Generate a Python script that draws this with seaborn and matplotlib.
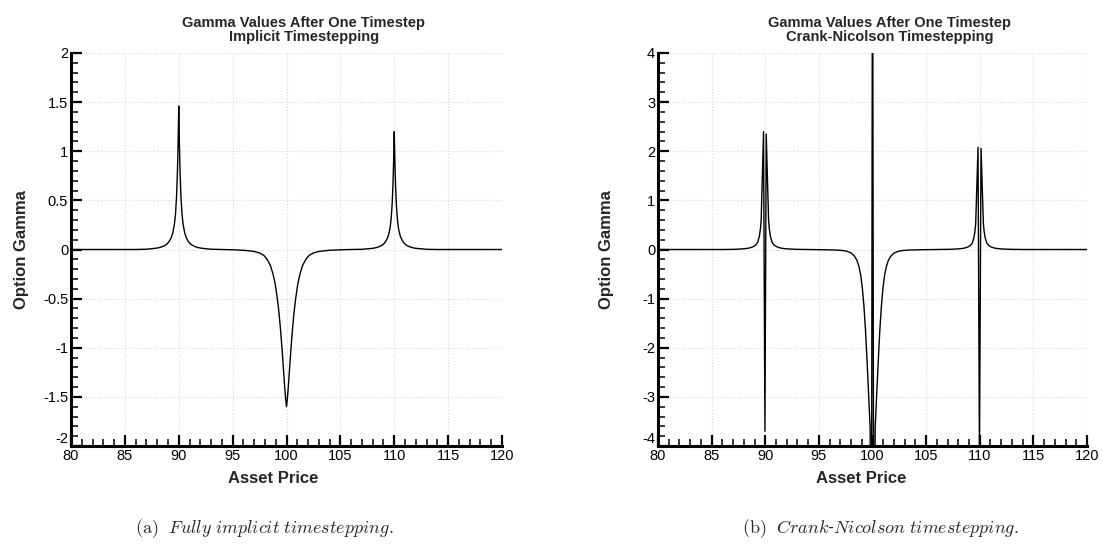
import numpy as np
import pandas as pd
import matplotlib
matplotlib.use("Agg")
import matplotlib.pyplot as plt
from matplotlib.ticker import MultipleLocator, FuncFormatter
import seaborn as sns

# valeurs : gamma apres un pas de temps (schema implicite)
price_implicit = [80, 84, 86, 87, 87.5, 88, 88.3, 88.6, 88.9, 89.1, 89.3, 89.45, 89.6, 89.7,
                  89.8, 89.88, 89.94, 90, 90.06, 90.12, 90.2, 90.3, 90.4, 90.55, 90.7, 90.9,
                  91.1, 91.4, 91.7, 92, 92.5, 93, 94, 95, 96, 96.5, 97, 97.5, 97.9, 98.2,
                  98.5, 98.75, 98.95, 99.15, 99.3, 99.45, 99.6, 99.72, 99.82, 99.92, 100,
                  100.08, 100.18, 100.28, 100.4, 100.55, 100.7, 100.85, 101.05, 101.25,
                  101.5, 101.8, 102.1, 102.5, 103, 103.5, 104, 105, 106, 107, 107.5, 108,
                  108.3, 108.6, 108.9, 109.1, 109.3, 109.45, 109.6, 109.7, 109.8, 109.88,
                  109.94, 110, 110.06, 110.12, 110.2, 110.3, 110.4, 110.55, 110.7, 110.9,
                  111.1, 111.4, 111.7, 112, 112.5, 113, 114, 116, 120]
gamma_implicit = [0, 0, 0, 0.003, 0.008, 0.015, 0.022, 0.035, 0.055, 0.08, 0.12, 0.17, 0.26,
                  0.36, 0.55, 0.80, 1.08, 1.46, 1.08, 0.80, 0.55, 0.36, 0.26, 0.17, 0.12,
                  0.08, 0.055, 0.035, 0.022, 0.015, 0.008, 0.003, 0, -0.003, -0.008, -0.013,
                  -0.02, -0.035, -0.06, -0.10, -0.16, -0.25, -0.35, -0.50, -0.64, -0.82,
                  -1.03, -1.22, -1.38, -1.52, -1.60, -1.52, -1.38, -1.22, -1.03, -0.82, -0.64,
                  -0.50, -0.35, -0.25, -0.16, -0.10, -0.06, -0.035, -0.02, -0.013, -0.008,
                  -0.003, 0, 0.002, 0.007, 0.012, 0.018, 0.029, 0.045, 0.066, 0.10, 0.14,
                  0.21, 0.30, 0.45, 0.66, 0.89, 1.20, 0.89, 0.66, 0.45, 0.30, 0.21, 0.14,
                  0.10, 0.066, 0.045, 0.029, 0.018, 0.012, 0.007, 0.002, 0, 0, 0]

# schema de Crank-Nicolson : oscillations aux points de discontinuite
price_cn = [80, 84, 86, 87, 87.5, 88, 88.3, 88.6, 88.9, 89.1, 89.3, 89.45, 89.55, 89.62,
            89.84, 89.97, 90.09, 90.31, 90.38, 90.48, 90.63, 90.83, 91.03, 91.33, 91.63,
            91.93, 92.4, 93, 94, 95.5, 96.5, 97.2, 97.6, 98, 98.3, 98.55, 98.75, 98.9,
            99.05, 99.2, 99.35, 99.5, 99.65, 99.78, 99.9, 100, 100.12, 100.25, 100.38,
            100.53, 100.68, 100.83, 100.98, 101.13, 101.28, 101.48, 101.73, 102.03,
            102.43, 102.83, 103.5, 104.5, 106, 107, 107.5, 108, 108.3, 108.6, 108.9,
            109.1, 109.3, 109.45, 109.55, 109.62, 109.84, 109.97, 110.12, 110.34, 110.41,
            110.51, 110.66, 110.86, 111.06, 111.36, 111.66, 111.96, 112.46, 113, 114, 120]
gamma_cn = [0, 0, 0, 0.003, 0.008, 0.015, 0.022, 0.035, 0.06, 0.09, 0.15, 0.27, 0.42, 0.60,
            2.40, -3.70, 2.35, 0.60, 0.42, 0.27, 0.15, 0.09, 0.06, 0.035, 0.022, 0.015,
            0.008, 0.003, 0, -0.005, -0.01, -0.02, -0.035, -0.07, -0.13, -0.22, -0.36,
            -0.52, -0.78, -1.15, -1.65, -2.30, -3.00, -3.63, -8.0, 8.0, -8.0, -3.63,
            -3.00, -2.30, -1.65, -1.15, -0.78, -0.52, -0.36, -0.22, -0.13, -0.07, -0.035,
            -0.02, -0.01, -0.005, 0, 0.003, 0.007, 0.013, 0.019, 0.03, 0.052, 0.08, 0.13,
            0.235, 0.365, 0.52, 2.08, -4.2, 2.06, 0.52, 0.365, 0.235, 0.13, 0.08, 0.052,
            0.03, 0.019, 0.013, 0.007, 0.003, 0, 0]

titles = ["Gamma Values After One Timestep\nImplicit Timestepping",
          "Gamma Values After One Timestep\nCrank-Nicolson Timestepping"]
captions = [r"$\mathrm{(a)}\ \ \mathit{Fully\ implicit\ timestepping.}$",
            r"$\mathrm{(b)}\ \ \mathit{Crank}$-$\mathit{Nicolson\ timestepping.}$"]

sns.set_theme(style="white")
plt.rcParams['font.family'] = ['Liberation Sans', 'DejaVu Sans']
plt.rcParams['axes.unicode_minus'] = False
plt.rcParams['mathtext.fontset'] = 'cm'

fig = plt.figure(figsize=(11.03, 5.44), dpi=100)
ax1 = fig.add_axes([71 / 1103, 98 / 544, 431 / 1103, 393 / 544])
ax2 = fig.add_axes([658 / 1103, 98 / 544, 429 / 1103, 393 / 544])

df1 = pd.DataFrame({"price": price_implicit, "gamma": gamma_implicit})
df2 = pd.DataFrame({"price": price_cn, "gamma": gamma_cn})

sns.lineplot(data=df1, x="price", y="gamma", ax=ax1, color="black", lw=1.0)
sns.lineplot(data=df2, x="price", y="gamma", ax=ax2, color="black", lw=1.0)

settings = [(ax1, (-2, 2), 0.5, 0.1), (ax2, (-4, 4), 1, 0.2)]
fmt = FuncFormatter(lambda v, p: "{:g}".format(round(v, 3)))

for i, (ax, ylim, ymaj, ymin) in enumerate(settings):
    ax.set_xlim(80, 120)
    ax.set_ylim(*ylim)
    ax.xaxis.set_major_locator(MultipleLocator(5))
    ax.xaxis.set_minor_locator(MultipleLocator(1))
    ax.yaxis.set_major_locator(MultipleLocator(ymaj))
    ax.yaxis.set_minor_locator(MultipleLocator(ymin))
    ax.yaxis.set_major_formatter(fmt)
    ax.tick_params(which="major", direction="in", length=8, width=1.6, labelsize=10.5,
                   pad=2, colors="black", left=True, bottom=True)
    ax.tick_params(which="minor", direction="in", length=5, width=1.3, left=True, bottom=True)
    for s in ["top", "right"]:
        ax.spines[s].set_visible(False)
    for s in ["left", "bottom"]:
        ax.spines[s].set_linewidth(2.2)
        ax.spines[s].set_color("black")
    ax.grid(True, which="major", linestyle=":", color="#d8d8d8", lw=0.8)
    ax.set_xlabel("Asset Price", fontsize=12, fontweight="bold")
    ax.set_ylabel("Option Gamma", fontsize=12, fontweight="bold")
    ax.set_title(titles[i], fontsize=10.5, fontweight="bold", x=0.54, pad=9, linespacing=1.0)

fig.canvas.draw()
# le label le plus bas remonte un peu, comme sur l'original
for ax, ylim, _, _ in settings:
    for tick in ax.yaxis.get_major_ticks():
        if abs(tick.get_loc() - ylim[0]) < 1e-9:
            tick.label1.set_verticalalignment("bottom")

ax1.xaxis.set_label_coords((273 - 71) / 431, -25 / 393)
ax2.xaxis.set_label_coords((861 - 658) / 429, -25 / 393)
ax1.yaxis.set_label_coords(-42 / 431, 0.5)
ax2.yaxis.set_label_coords(-44 / 429, 0.5)

fig.text(264 / 1103, 1 - 529 / 544, captions[0], ha="center", va="center", fontsize=13)
fig.text(880 / 1103, 1 - 529 / 544, captions[1], ha="center", va="center", fontsize=13)

fig.savefig("out.png", dpi=100)
